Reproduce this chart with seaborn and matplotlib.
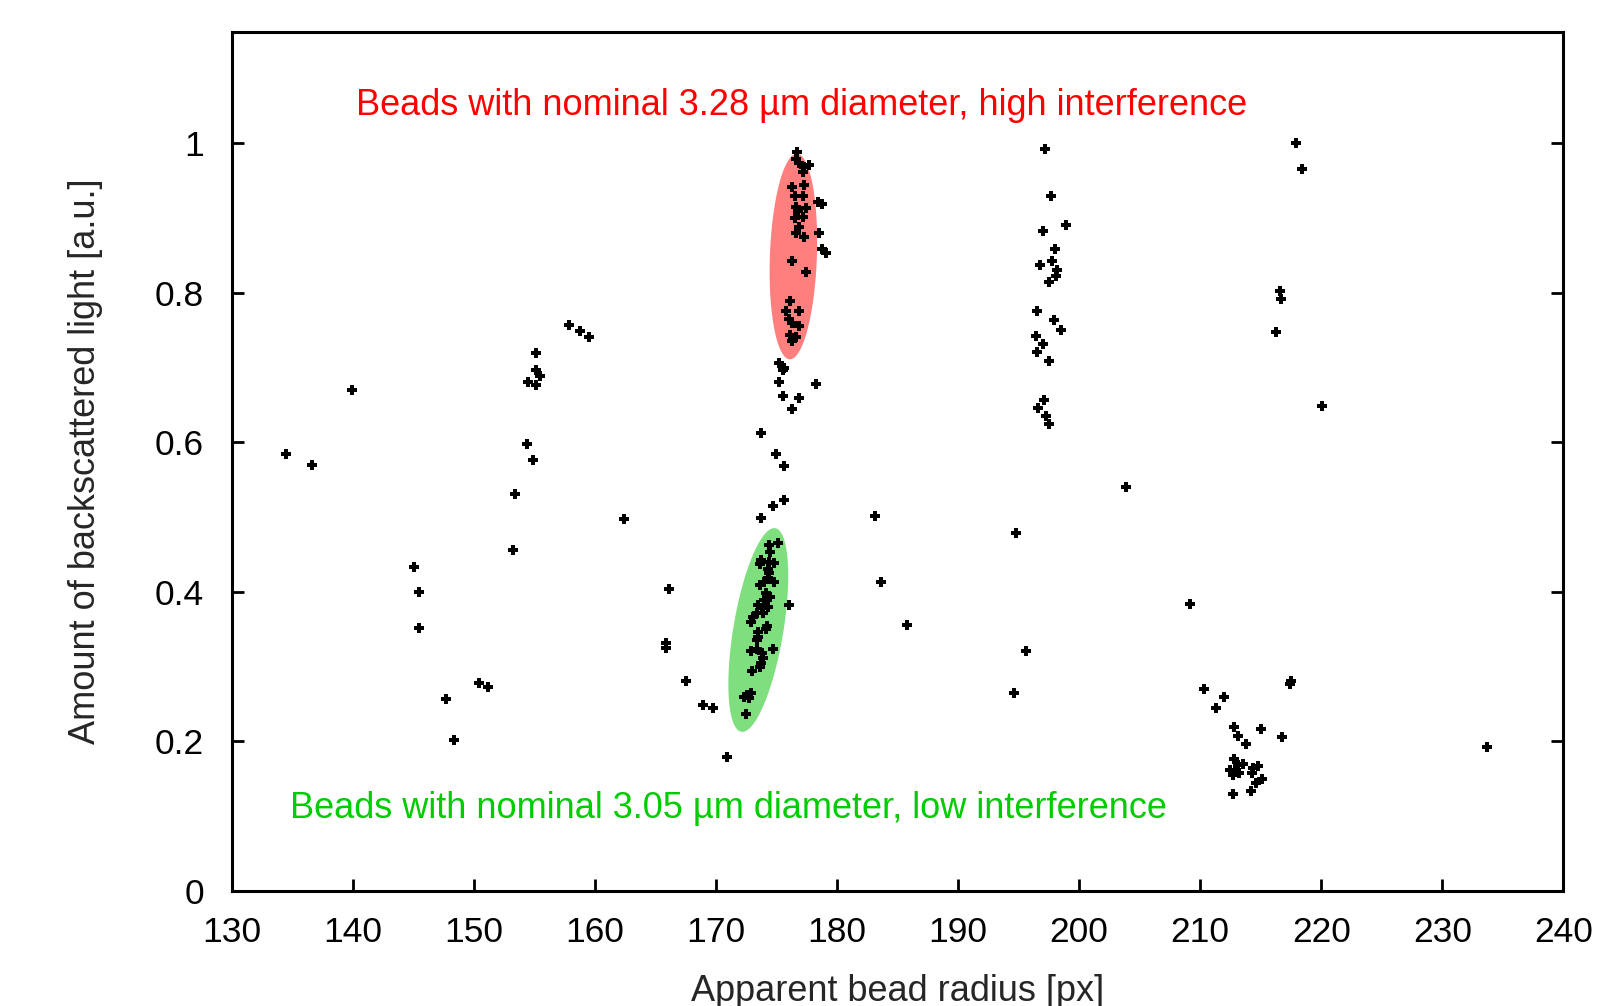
import numpy as np
import pandas as pd
import matplotlib
matplotlib.use("Agg")
import matplotlib.pyplot as plt
import seaborn as sns

# ---------------- data ----------------
misc_x = [134.5, 136.6, 139.9, 145.1, 145.5, 145.5, 147.7, 148.4, 150.4, 151.2,
          153.2, 153.4, 154.4, 154.9, 155.1, 155.1, 155.5, 154.5, 155.1, 157.9,
          158.8, 159.5, 162.4, 166.1, 165.9, 165.9, 167.5, 168.9, 169.8, 170.9,
          173.7, 174.96, 175.6, 175.6, 174.7, 173.7, 176.0, 174.7,
          183.1, 183.6, 185.8, 194.8, 194.6, 195.6, 203.9, 209.2,
          217.9, 218.4, 216.6, 216.7, 216.3, 220.1, 233.7]
misc_y = [0.584, 0.570, 0.670, 0.433, 0.400, 0.352, 0.256, 0.201, 0.278, 0.273,
          0.456, 0.531, 0.598, 0.576, 0.720, 0.696, 0.688, 0.680, 0.677, 0.757,
          0.749, 0.741, 0.497, 0.403, 0.332, 0.325, 0.281, 0.249, 0.244, 0.179,
          0.613, 0.584, 0.568, 0.523, 0.515, 0.499, 0.382, 0.324,
          0.501, 0.413, 0.355, 0.478, 0.265, 0.321, 0.540, 0.383,
          1.000, 0.965, 0.802, 0.791, 0.747, 0.648, 0.192]

green_x = [174.4, 175.1, 174.5, 173.7, 173.6, 174.4, 174.8, 174.3, 174.4, 174.3,
           174.0, 174.8, 173.6, 174.1, 174.5, 174.0, 173.5, 174.3, 173.8, 173.9,
           173.4, 173.1, 172.9, 174.2, 174.1, 173.5, 173.5, 173.4, 173.4, 172.9,
           173.8, 173.9, 173.7, 173.6, 173.0, 172.9, 172.6, 172.3, 172.7, 172.5]
green_y = [0.463, 0.465, 0.453, 0.442, 0.437, 0.440, 0.439, 0.431, 0.425, 0.418,
           0.413, 0.413, 0.409, 0.398, 0.393, 0.389, 0.382, 0.380, 0.378, 0.371,
           0.372, 0.366, 0.360, 0.354, 0.350, 0.346, 0.340, 0.335, 0.324, 0.321,
           0.318, 0.311, 0.304, 0.299, 0.294, 0.265, 0.262, 0.259, 0.258, 0.237]

red_x = [176.7, 176.6, 176.9, 177.3, 177.7, 177.2, 176.3, 177.3, 176.5, 177.2,
         176.6, 177.4, 176.8, 176.5, 177.2, 178.4, 178.8, 176.9, 176.6, 177.3,
         178.5, 178.8, 179.1, 176.3, 177.4, 176.1, 175.8, 176.9, 176.0, 176.3,
         176.9, 176.1, 176.6, 176.3,
         175.2, 175.6, 175.5, 175.2, 178.3, 175.5, 176.9, 176.3]
red_y = [0.989, 0.979, 0.973, 0.968, 0.971, 0.961, 0.941, 0.944, 0.929, 0.929,
         0.915, 0.914, 0.909, 0.900, 0.901, 0.921, 0.919, 0.888, 0.880, 0.874,
         0.880, 0.859, 0.853, 0.843, 0.828, 0.789, 0.776, 0.776, 0.765, 0.760,
         0.756, 0.744, 0.741, 0.735,
         0.706, 0.700, 0.696, 0.680, 0.678, 0.662, 0.659, 0.645]

col197_x = [197.2, 197.7, 198.9, 197.0, 198.0, 197.8, 196.8, 198.2, 198.1, 197.5,
            196.5, 197.9, 198.5, 196.4, 197.0, 196.5, 197.5, 197.1, 196.6, 197.3, 197.5]
col197_y = [0.992, 0.930, 0.890, 0.883, 0.859, 0.843, 0.837, 0.830, 0.823, 0.814,
            0.776, 0.763, 0.750, 0.742, 0.731, 0.721, 0.709, 0.657, 0.646, 0.635, 0.624]

br_x = [210.3, 212.0, 211.3, 217.5, 217.4, 212.8, 213.1, 215.0, 216.8, 213.8,
        212.8, 212.5, 213.1, 213.5, 212.7, 213.2, 212.9, 214.4, 214.8, 214.3,
        215.1, 214.6, 212.7, 214.2]
br_y = [0.270, 0.259, 0.244, 0.281, 0.277, 0.219, 0.207, 0.216, 0.206, 0.196,
        0.176, 0.162, 0.168, 0.169, 0.155, 0.158, 0.161, 0.164, 0.167, 0.157,
        0.149, 0.144, 0.130, 0.133]

# ellipse annotations: (top end of major axis), (bottom end), minor half-width in px
red_ell_top, red_ell_bottom, red_ell_halfwidth_px = (176.7, 0.986), (176.1, 0.711), 23.5
green_ell_top, green_ell_bottom, green_ell_halfwidth_px = (174.9, 0.485), (172.1, 0.2126), 25.0

red_label = "Beads with nominal 3.28 µm diameter, high interference"
green_label = "Beads with nominal 3.05 µm diameter, low interference"
x_label = "Apparent bead radius [px]"
y_label = "Amount of backscattered light [a.u.]"
x_ticks = list(range(130, 241, 10))
y_ticks = [0, 0.2, 0.4, 0.6, 0.8, 1]
y_tick_labels = ["0", "0.2", "0.4", "0.6", "0.8", "1"]

# ---------------- plot ----------------
sns.set_theme(style="white")
plt.rcParams['font.family'] = ['Liberation Sans', 'DejaVu Sans']

fig = plt.figure(figsize=(16.18, 10.06), dpi=100)
ax = fig.add_axes([0.1432, 0.1146, 0.9662 - 0.1432, 0.9685 - 0.1146])
ax.set_xlim(130, 240)
ax.set_ylim(0, 1.1493)

def draw_ellipse(top, bottom, halfw_px, color):
    T = ax.transData
    p1 = T.transform(top)
    p2 = T.transform(bottom)
    c = (p1 + p2) / 2
    a_vec = (p1 - p2) / 2
    n = np.array([a_vec[1], -a_vec[0]])
    n = n / np.linalg.norm(n) * halfw_px
    t = np.linspace(0, 2 * np.pi, 200)
    pts = c + np.outer(np.cos(t), a_vec) + np.outer(np.sin(t), n)
    data_pts = T.inverted().transform(pts)
    ax.fill(data_pts[:, 0], data_pts[:, 1], color=color, lw=0, zorder=1)

draw_ellipse(red_ell_top, red_ell_bottom, red_ell_halfwidth_px, '#ff7f7f')
draw_ellipse(green_ell_top, green_ell_bottom, green_ell_halfwidth_px, '#7fdf7f')

df = pd.DataFrame({
    "x": misc_x + green_x + red_x + col197_x + br_x,
    "y": misc_y + green_y + red_y + col197_y + br_y,
})
sns.scatterplot(data=df, x="x", y="y", ax=ax, marker="P", s=62,
                color="black", linewidth=0, zorder=3, legend=False)

ax.text(140.3, 1.038, red_label, color='#ff0000', fontsize=26, ha='left', va='baseline')
ax.text(134.8, 0.0973, green_label, color='#00cc00', fontsize=26, ha='left', va='baseline')

ax.set_xticks(x_ticks)
ax.set_yticks(y_ticks)
ax.set_yticklabels(y_tick_labels)
ax.tick_params(direction='in', length=8.6, width=2.0, labelsize=25.5,
               top=False, right=True, bottom=True, left=True, colors='black')
ax.tick_params(axis='y', pad=20)
ax.tick_params(axis='x', pad=18)
for s in ax.spines.values():
    s.set_linewidth(2.2)
    s.set_color('black')
ax.set_xlabel(x_label, fontsize=26, labelpad=18)
ax.set_ylabel(y_label, fontsize=26, labelpad=37)
ax.grid(False)

fig.savefig("out.png", dpi=100)
